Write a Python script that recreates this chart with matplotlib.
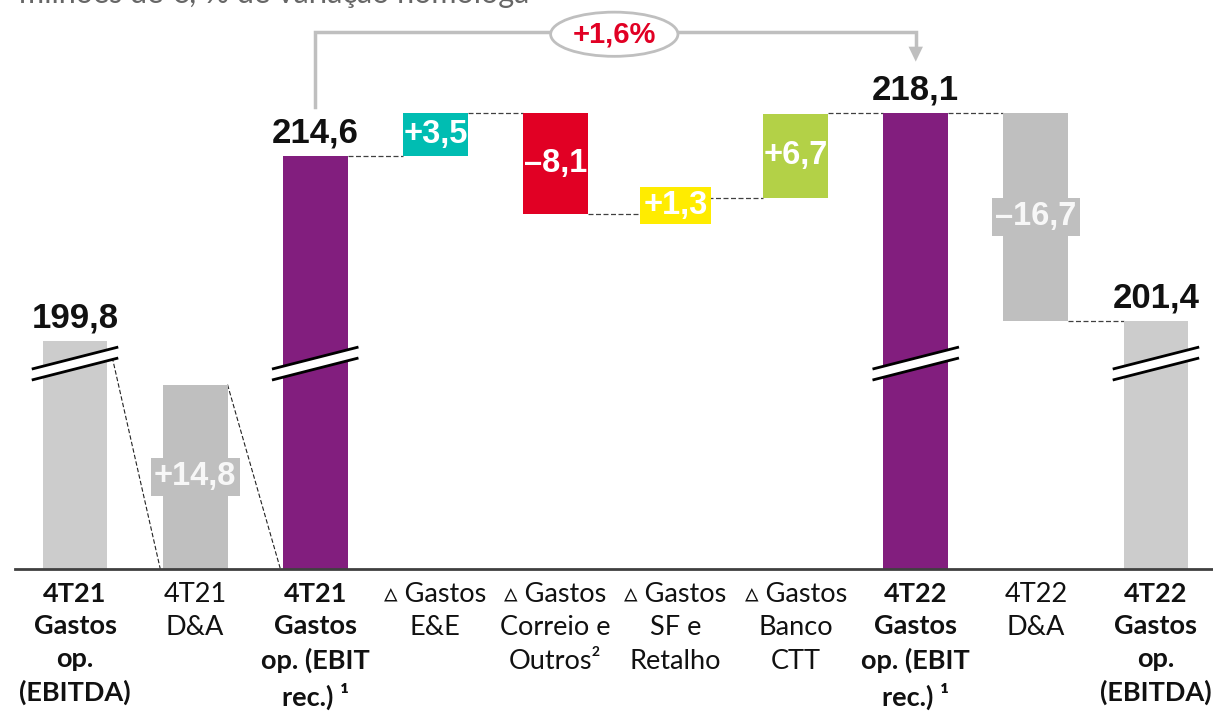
import matplotlib.pyplot as plt
from matplotlib.patches import Polygon, Ellipse

# data (millions of euros)
categories = [
    "4T21\nGastos\nop.\n(EBITDA)",
    "4T21\nD&A",
    "4T21\nGastos\nop. (EBIT\nrec.) \u00b9",
    "\u25b5 Gastos\nE&E",
    "\u25b5 Gastos\nCorreio e\nOutros\u00b2",
    "\u25b5 Gastos\nSF e\nRetalho",
    "\u25b5 Gastos\nBanco\nCTT",
    "4T22\nGastos\nop. (EBIT\nrec.) \u00b9",
    "4T22\nD&A",
    "4T22\nGastos\nop.\n(EBITDA)",
]
bold_cat = [True, False, True, False, False, False, False, True, False, True]

ebitda_21 = 199.8
da_21 = 14.8
ebit_21 = 214.6
delta_values = [3.5, -8.1, 1.3, 6.7]
delta_labels = ["+3,5", "\u20138,1", "+1,3", "+6,7"]
delta_colors = ["#00bdb2", "#e10024", "#ffec00", "#b3d147"]
ebit_22 = 218.1
da_22 = -16.7
ebitda_22 = 201.4
yoy_label = "+1,6%"

# broken axis: totals are drawn with this offset removed
BASE = 181.47
W = 0.54
GRAY_LIGHT = "#cccccc"
GRAY_DA = "#bfbfbf"
PURPLE = "#821e7e"
NUM_FONT = ["Liberation Sans", "DejaVu Sans"]
CAT_FONT = ["Lato", "DejaVu Sans"]

fig = plt.figure(figsize=(12.13, 7.12), dpi=100)
ax = fig.add_axes([0, 0, 1, 1])
ax.set_xlim(-0.6245, 9.475)
ax.set_ylim(-11.49, 45.70)
ax.axis("off")


def fmt(v):
    return f"{v:.1f}".replace(".", ",")


def draw_break(x, yc=16.5):
    half, rise, gap = 0.36, 1.77, 0.88
    lo = [(x - half, yc - gap / 2 - rise / 2), (x + half, yc - gap / 2 + rise / 2)]
    hi = [(x - half, yc + gap / 2 - rise / 2), (x + half, yc + gap / 2 + rise / 2)]
    ax.add_patch(Polygon(lo + hi[::-1], closed=True, facecolor="white",
                         edgecolor="none", zorder=4))
    for seg in (lo, hi):
        ax.plot([seg[0][0], seg[1][0]], [seg[0][1], seg[1][1]],
                color="black", lw=2, zorder=5, solid_capstyle="butt")


def top_label(x, v):
    ax.text(x, v - BASE + 1.1, fmt(v), ha="center", va="baseline",
            fontsize=25, fontweight="bold", family=NUM_FONT, color="#111111",
            zorder=6)


def box_label(x, y, txt, color, txtcolor="white", boxed=True):
    box = None
    if boxed:
        box = dict(boxstyle="square,pad=0.1", facecolor=color, edgecolor="none")
    ax.text(x, y, txt, ha="center", va="center", fontsize=23.5,
            fontweight="bold", family=NUM_FONT, color=txtcolor, zorder=6,
            bbox=box)


def dash(x0, x1, y):
    ax.plot([x0, x1], [y, y], color="#404040", lw=0.9, ls=(0, (4, 2)),
            zorder=2)


# totals and D&A bars
ax.bar(0, ebitda_21 - BASE, W, color=GRAY_LIGHT, zorder=3)
ax.bar(1, da_21, W, color=GRAY_DA, zorder=3)
ax.bar(2, ebit_21 - BASE, W, color=PURPLE, zorder=3)
ax.bar(7, ebit_22 - BASE, W, color=PURPLE, zorder=3)
ax.bar(8, -da_22, W, bottom=ebitda_22 - BASE, color=GRAY_DA, zorder=3)
ax.bar(9, ebitda_22 - BASE, W, color=GRAY_LIGHT, zorder=3)

for x in (0, 2, 7, 9):
    draw_break(x)

top_label(0, ebitda_21)
top_label(2, ebit_21)
top_label(7, ebit_22)
top_label(9, ebitda_22)

box_label(1, da_21 / 2, "+" + fmt(da_21), GRAY_DA, "#f7f7f7")
box_label(8, ebitda_22 - BASE - da_22 / 2, "\u2013" + fmt(-da_22), GRAY_DA,
          "#f7f7f7")

# slanted dashed links on the left
ax.plot([W / 2 + 0.04, 1 - W / 2 - 0.02], [17.0, 0], color="#222222",
        lw=0.8, ls=(0, (4, 2)), zorder=2)
ax.plot([1 + W / 2, 2 - W / 2 - 0.02], [da_21, 0], color="#222222",
        lw=0.8, ls=(0, (4, 2)), zorder=2)

# waterfall of deltas
level = ebit_21
dash(2 + W / 2, 3 - W / 2, level - BASE)
for i, (d, lab, col) in enumerate(zip(delta_values, delta_labels, delta_colors)):
    x = 3 + i
    lo = min(level, level + d) - BASE
    ax.bar(x, abs(d), W, bottom=lo, color=col, zorder=3)
    box_label(x, lo + abs(d) / 2, lab, col, boxed=abs(d) < 2)
    level = level + d
    if i == len(delta_values) - 1:
        dash(x + W / 2, x + 1 - W / 2, ebit_22 - BASE)
    else:
        dash(x + W / 2, x + 1 - W / 2, level - BASE)

dash(7 + W / 2, 8 - W / 2, ebit_22 - BASE)
dash(8 + W / 2, 9 - W / 2, ebitda_22 - BASE)

# baseline
ax.plot([-0.50, 9.475], [0, 0], color="#404040", lw=2, zorder=5)

# category labels
for i, (c, b) in enumerate(zip(categories, bold_cat)):
    ax.text(i, -1.05, c, ha="center", va="top", fontsize=19.5,
            fontweight="bold" if b else "normal", family=CAT_FONT,
            color="#111111", linespacing=1.42)

# year-on-year connector
gcol = "#bfbfbf"
y_top = 43.13
ax.plot([2, 2, 7, 7], [37.1, y_top, y_top, 41.9], color=gcol, lw=2.5,
        solid_joinstyle="miter", zorder=2)
ax.add_patch(Polygon([(6.94, 41.95), (7.06, 41.95), (7.0, 40.75)],
                     closed=True, facecolor=gcol, edgecolor="none", zorder=2))
ax.add_patch(Ellipse((4.49, 42.95), 1.06, 3.55, facecolor="white",
                     edgecolor=gcol, lw=2, zorder=3))
ax.text(4.49, 42.95, yoy_label, ha="center", va="center", fontsize=21,
        fontweight="bold", family=NUM_FONT, color="#e10024", zorder=4)

# cut-off unit line at the very top
ax.text(-0.47, 45.46, "milhões de €; % de variação homóloga", ha="left",
        va="baseline", fontsize=22, family=CAT_FONT, color="#666666")

fig.savefig("out.png", dpi=100)
